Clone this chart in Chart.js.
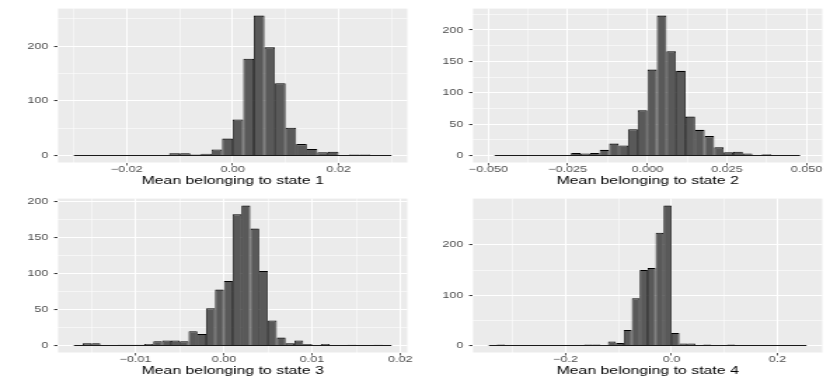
<!DOCTYPE html>
<html>
<head>
<meta charset="utf-8">
<script src="https://cdn.jsdelivr.net/npm/chart.js@4.4.1/dist/chart.umd.min.js"></script>
<style>
  body { margin: 0; background: #fff; }
  #wrap { position: relative; width: 830px; height: 381px; overflow: hidden; }
  .panel { position: absolute; width: 296px; height: 190px; transform-origin: 0 0; transform: scaleX(1.402027); }
</style>
</head>
<body>
<div id="wrap">
  <div class="panel" style="left:0;top:0"><canvas id="state1" width="296" height="190"></canvas></div>
  <div class="panel" style="left:415px;top:0"><canvas id="state2" width="296" height="190"></canvas></div>
  <div class="panel" style="left:0;top:190px"><canvas id="state3" width="296" height="190"></canvas></div>
  <div class="panel" style="left:415px;top:190px"><canvas id="state4" width="296" height="190"></canvas></div>
</div>
<script>
// histogram counts (first bin edge, bin width, counts)
const state1Start = -0.030;
const state1Width = 0.002;
const state1Counts = [0, 0, 1, 0, 1, 1, 0, 0, 1, 4, 4, 2, 3, 11, 31, 66, 177, 256, 198, 132, 51, 21, 12, 6, 7, 0, 2, 2, 0, 1];
const state1XTicks = [-0.02, 0, 0.02];
const state1XLabels = ['\u22120.02', '0.00', '0.02'];
const state1XMinor = [-0.03, -0.01, 0.01, 0.03];
const state1XLimits = [-0.033, 0.033];
const state1YTicks = [0, 100, 200];
const state1YMinor = [50, 150, 250];

const state2Start = -0.048;
const state2Width = 0.003;
const state2Counts = [0, 0, 0, 0, 1, 1, 0, 0, 4, 3, 4, 9, 19, 16, 42, 72, 137, 223, 166, 135, 62, 41, 31, 13, 5, 6, 3, 1, 2, 0, 0, 0];
const state2XTicks = [-0.05, -0.025, 0, 0.025, 0.05];
const state2XLabels = ['\u22120.050', '\u22120.025', '0.000', '0.025', '0.050'];
const state2XMinor = [-0.0375, -0.0125, 0.0125, 0.0375];
const state2XLimits = [-0.0548, 0.055];
const state2YTicks = [0, 50, 100, 150, 200];
const state2YMinor = [25, 75, 125, 175, 225];

const state3Start = -0.017;
const state3Width = 0.001;
const state3Counts = [0, 3, 3, 0, 0, 1, 1, 1, 2, 6, 7, 7, 6, 20, 16, 52, 78, 90, 183, 195, 163, 104, 35, 11, 3, 7, 2, 0, 2, 0, 0, 1, 0, 0, 1, 0];
const state3XTicks = [-0.01, 0, 0.01, 0.02];
const state3XLabels = ['\u22120.01', '0.00', '0.01', '0.02'];
const state3XMinor = [-0.015, -0.005, 0.005, 0.015];
const state3XLimits = [-0.0188, 0.0208];
const state3YTicks = [0, 50, 100, 150, 200];
const state3YMinor = [25, 75, 125, 175];

const state4Start = -0.345;
const state4Width = 0.015;
const state4Counts = [0, 2, 0, 0, 0, 0, 0, 1, 0, 0, 0, 0, 2, 2, 0, 8, 5, 31, 94, 150, 154, 224, 278, 25, 4, 4, 0, 2, 0, 0, 2, 0, 0, 0, 1, 0, 0, 0, 1, 0];
const state4XTicks = [-0.2, 0, 0.2];
const state4XLabels = ['\u22120.2', '0.0', '0.2'];
const state4XMinor = [-0.3, -0.1, 0.1];
const state4XLimits = [-0.375, 0.285];
const state4YTicks = [0, 100, 200];
const state4YMinor = [50, 150, 250];

const FONT = 'Liberation Sans, Arial, sans-serif';

const panelBg = {
    id: 'panelBg',
    beforeDraw(chart) {
        const {ctx, chartArea: a} = chart;
        ctx.save();
        ctx.fillStyle = '#EBEBEB';
        ctx.fillRect(a.left, a.top, a.right - a.left, a.bottom - a.top);
        ctx.restore();
    }
};

function isIn(list, v) {
    return list.some(t => Math.abs(t - v) < 1e-9);
}

function setTicks(major, minor) {
    return (scale) => {
        scale.ticks = major.concat(minor).sort((a, b) => a - b).map(v => ({value: v}));
    };
}

function makeHistogram(id, title, start, width, counts, xTicks, xLabels, xMinor, xLimits, yTicks, yMinor) {
    const bars = counts.map((c, i) => ({x: start + width * (i + 0.5), y: c}));
    const base = [{x: start, y: 0}, {x: start + width * counts.length, y: 0}];
    const top = Math.max(...counts);

    return new Chart(document.getElementById(id), {
        type: 'bar',
        data: {
            datasets: [{
                type: 'line',
                data: base,
                borderColor: '#000000',
                borderWidth: 0.9,
                pointRadius: 0,
                order: 0
            }, {
                data: bars,
                backgroundColor: '#595959',
                borderColor: '#000000',
                borderWidth: {top: 1.1, left: 0.8, right: 0.8, bottom: 0},
                borderSkipped: false,
                barPercentage: 1,
                categoryPercentage: 1,
                inflateAmount: 0,
                order: 1
            }]
        },
        options: {
            responsive: false,
            animation: false,
            devicePixelRatio: 1,
            layout: {padding: {top: 4.9, right: 5.5, left: 0, bottom: 0}},
            plugins: {legend: {display: false}, tooltip: {enabled: false}},
            scales: {
                x: {
                    type: 'linear',
                    min: xLimits[0],
                    max: xLimits[1],
                    offset: false,
                    border: {display: false},
                    grid: {
                        offset: false,
                        color: '#FFFFFF',
                        lineWidth: c => isIn(xTicks, c.tick.value) ? 1.0 : 0.5,
                        tickColor: c => isIn(xTicks, c.tick.value) ? '#333333' : 'rgba(0,0,0,0)',
                        tickLength: 3,
                        tickWidth: 0.8
                    },
                    ticks: {
                        autoSkip: false,
                        maxRotation: 0,
                        padding: 0,
                        color: '#4D4D4D',
                        font: {family: FONT, size: 9, lineHeight: 1},
                        callback: v => {
                            const i = xTicks.findIndex(t => Math.abs(t - v) < 1e-9);
                            return i < 0 ? '' : xLabels[i];
                        }
                    },
                    title: {
                        display: true,
                        text: title,
                        color: '#000000',
                        font: {family: FONT, size: 11.3},
                        padding: {top: 0, bottom: 2.4}
                    },
                    afterBuildTicks: setTicks(xTicks, xMinor),
                    afterFit: s => { s.height = 27.5; }
                },
                y: {
                    min: -0.05 * top,
                    max: 1.05 * top,
                    border: {display: false},
                    grid: {
                        color: '#FFFFFF',
                        lineWidth: c => isIn(yTicks, c.tick.value) ? 1.1 : 0.55,
                        tickColor: c => isIn(yTicks, c.tick.value) ? '#333333' : 'rgba(0,0,0,0)',
                        tickLength: 2.8,
                        tickWidth: 1
                    },
                    ticks: {
                        autoSkip: false,
                        padding: 4.1,
                        color: '#4D4D4D',
                        font: {family: FONT, size: 9, lineHeight: 1},
                        callback: v => isIn(yTicks, v) ? String(v) : ''
                    },
                    afterBuildTicks: setTicks(yTicks, yMinor),
                    afterFit: s => { s.width = 41.37; }
                }
            }
        },
        plugins: [panelBg]
    });
}

makeHistogram('state1', 'Mean belonging to state 1', state1Start, state1Width, state1Counts,
    state1XTicks, state1XLabels, state1XMinor, state1XLimits, state1YTicks, state1YMinor);
makeHistogram('state2', 'Mean belonging to state 2', state2Start, state2Width, state2Counts,
    state2XTicks, state2XLabels, state2XMinor, state2XLimits, state2YTicks, state2YMinor);
makeHistogram('state3', 'Mean belonging to state 3', state3Start, state3Width, state3Counts,
    state3XTicks, state3XLabels, state3XMinor, state3XLimits, state3YTicks, state3YMinor);
makeHistogram('state4', 'Mean belonging to state 4', state4Start, state4Width, state4Counts,
    state4XTicks, state4XLabels, state4XMinor, state4XLimits, state4YTicks, state4YMinor);
</script>
</body>
</html>
